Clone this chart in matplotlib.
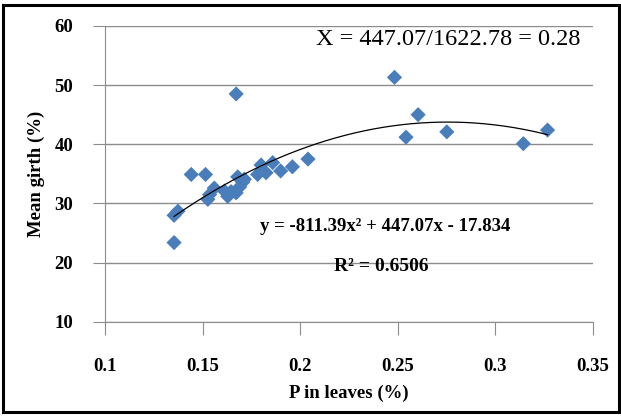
import numpy as np
import matplotlib.pyplot as plt

# P in leaves (%) vs mean girth (%)
p_leaves = [0.1354, 0.1354, 0.1374, 0.1442, 0.1515, 0.1527, 0.1536, 0.1560,
            0.1612, 0.1629, 0.1646, 0.1672, 0.1690, 0.1680, 0.1706, 0.1714,
            0.1672, 0.1782, 0.1800, 0.1825, 0.1859, 0.1900, 0.1960, 0.2040,
            0.2483, 0.2542, 0.2604, 0.2751, 0.3143, 0.3267]
girth = [23.4, 28.0, 28.7, 34.9, 34.9, 30.7, 31.5, 32.6,
         32.1, 31.2, 32.0, 31.8, 32.8, 34.5, 33.6, 34.1,
         48.5, 34.9, 36.5, 35.2, 36.9, 35.5, 36.2, 37.5,
         51.3, 41.2, 45.0, 42.1, 40.1, 42.4]

# quadratic trend coefficients
a2, a1, a0 = -811.39, 447.07, -17.834

x_ticks = [0.1, 0.15, 0.2, 0.25, 0.3, 0.35]
x_tick_labels = ["0.1", "0.15", "0.2", "0.25", "0.3", "0.35"]
y_ticks = [10, 20, 30, 40, 50, 60]

serif = ["Liberation Serif", "DejaVu Serif"]
plt.rcParams["font.family"] = serif

fig = plt.figure(figsize=(6.21, 4.17), dpi=100)
ax = fig.add_axes([0.169, 0.228, 0.786, 0.710])

ax.scatter(p_leaves, girth, marker="D", s=60, color="#4a7ebb", edgecolors="none", zorder=3)

xs = np.linspace(min(p_leaves), max(p_leaves), 200)
ax.plot(xs, a2 * xs**2 + a1 * xs + a0, color="black", lw=0.9, zorder=4)

ax.set_xlim(0.1, 0.35)
ax.set_ylim(10, 60)
ax.set_xticks(x_ticks)
ax.set_xticklabels(x_tick_labels)
ax.set_yticks(y_ticks)
ax.yaxis.grid(True, color="#8c8c8c", lw=1.0)
ax.set_axisbelow(True)

for s in ["top", "right"]:
    ax.spines[s].set_visible(False)
for s in ["left", "bottom"]:
    ax.spines[s].set_color("#8c8c8c")
ax.tick_params(axis="x", direction="out", length=9, color="#8c8c8c",
               labelsize=13.5, pad=17)
ax.tick_params(axis="y", direction="out", length=9, color="#8c8c8c",
               labelsize=13.5, pad=14)
for lab in ax.get_xticklabels() + ax.get_yticklabels():
    lab.set_fontweight("bold")

ax.set_xlabel("P in leaves (%)", fontsize=13.5, fontweight="bold", labelpad=7)
ax.set_ylabel("Mean girth (%)", fontsize=13.5, fontweight="bold", labelpad=7)

ax.text(0.975, 0.955, "X = 447.07/1622.78 = 0.28", transform=ax.transAxes,
        ha="right", va="center", fontsize=17.5)
ax.text(0.574, 0.321, "y = -811.39x² + 447.07x - 17.834", transform=ax.transAxes,
        ha="center", va="center", fontsize=13.5, fontweight="bold")
ax.text(0.566, 0.186, "R² = 0.6506", transform=ax.transAxes,
        ha="center", va="center", fontsize=14, fontweight="bold")

# outer frame
fig.patches.append(plt.Rectangle((0.005, 0.011), 0.992, 0.978, transform=fig.transFigure,
                                 fill=False, edgecolor="black", lw=2.2))

fig.savefig("out.png", dpi=100)
